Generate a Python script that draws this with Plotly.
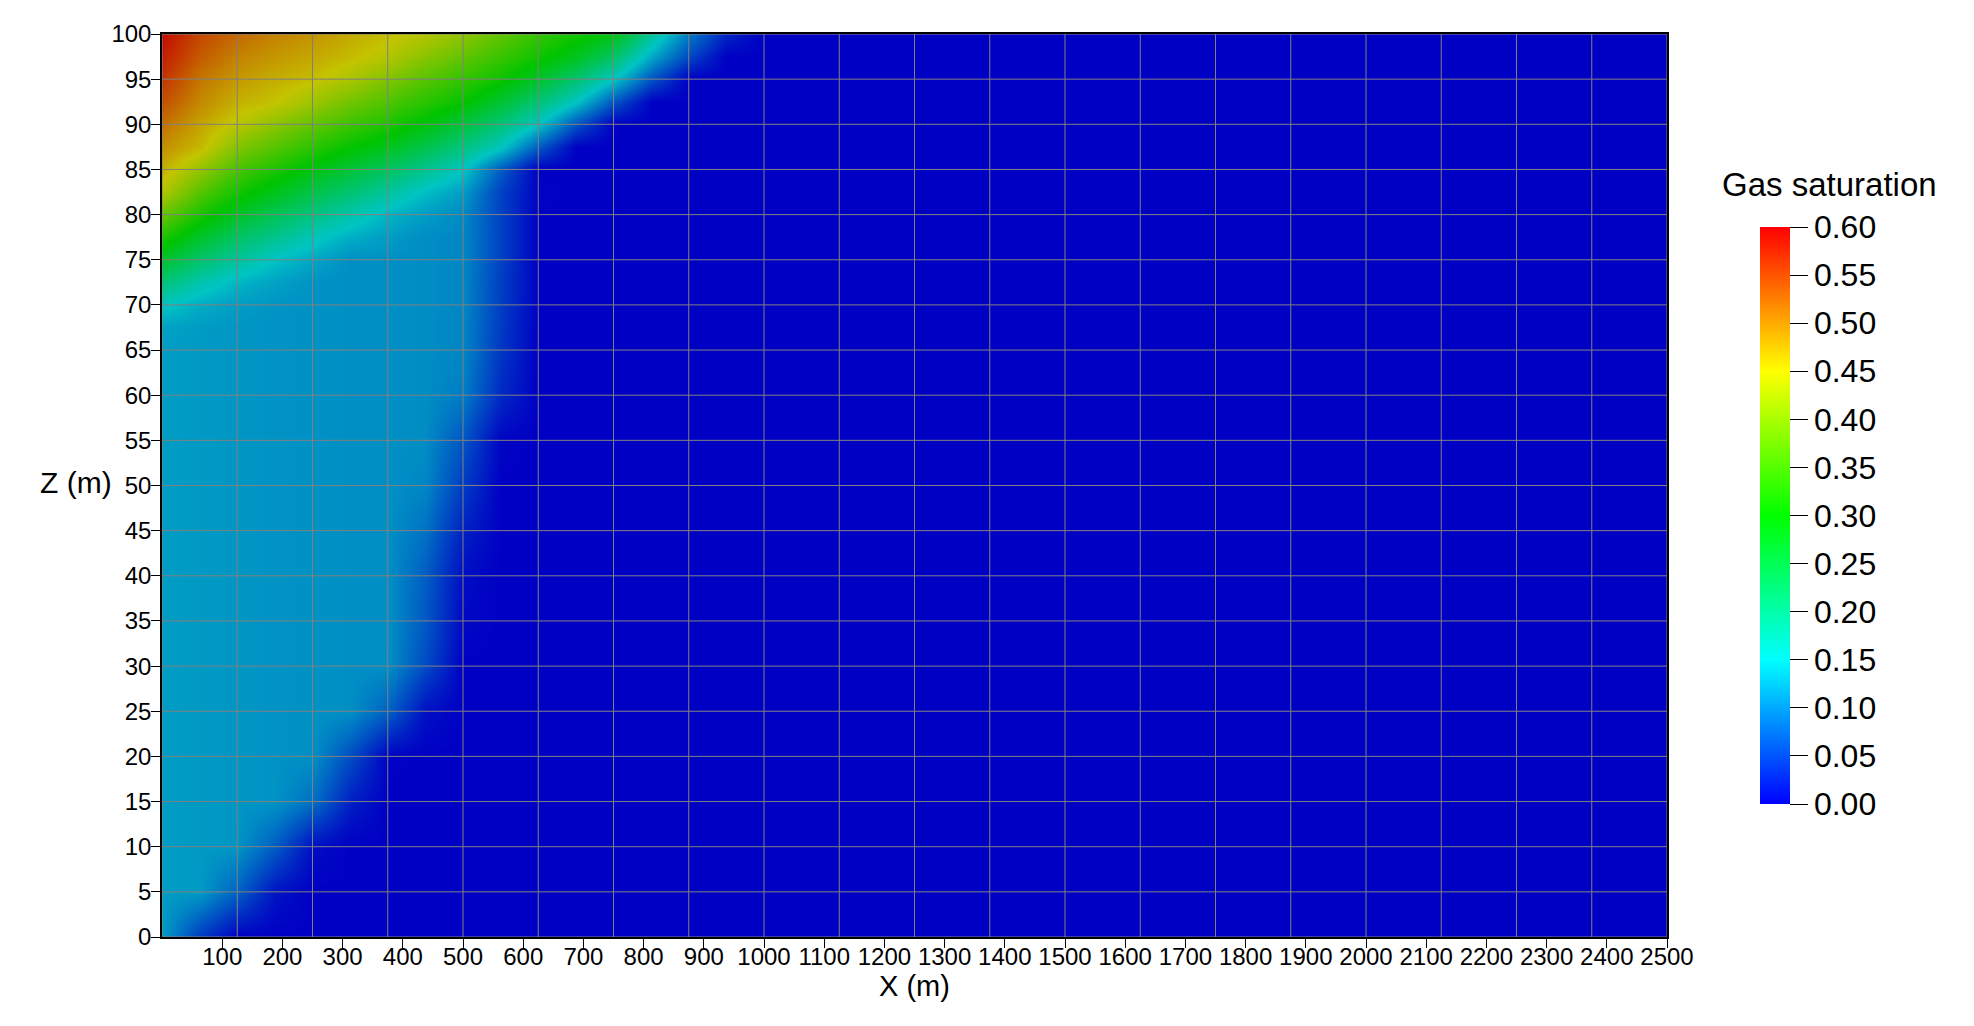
import plotly.graph_objects as go

# ---- data ----
x_nodes = [0, 62.5, 125, 187.5, 250, 312.5, 375, 437.5, 500, 562.5, 625,
           687.5, 750, 812.5, 875, 937.5, 1000, 2500]
z_nodes = [0, 5, 10, 15, 20, 25, 30, 35, 40, 45, 50, 55, 60, 62.5, 65, 67.5,
           70, 72.5, 75, 77.5, 80, 82.5, 85, 87.5, 90, 92.5, 95, 97.5, 100]

# gas saturation, one row per z node (bottom to top), one column per x node
saturation = [
    [0.120, 0.045, 0.000, 0, 0, 0, 0, 0, 0, 0, 0, 0, 0, 0, 0, 0, 0, 0],
    [0.120, 0.118, 0.075, 0.015, 0, 0, 0, 0, 0, 0, 0, 0, 0, 0, 0, 0, 0, 0],
    [0.120, 0.118, 0.115, 0.070, 0.010, 0, 0, 0, 0, 0, 0, 0, 0, 0, 0, 0, 0, 0],
    [0.120, 0.118, 0.115, 0.113, 0.085, 0.024, 0, 0, 0, 0, 0, 0, 0, 0, 0, 0, 0, 0],
    [0.120, 0.118, 0.115, 0.113, 0.110, 0.060, 0.002, 0, 0, 0, 0, 0, 0, 0, 0, 0, 0, 0],
    [0.120, 0.118, 0.115, 0.113, 0.112, 0.110, 0.075, 0.013, 0, 0, 0, 0, 0, 0, 0, 0, 0, 0],
    [0.120, 0.118, 0.115, 0.113, 0.112, 0.110, 0.110, 0.058, 0, 0, 0, 0, 0, 0, 0, 0, 0, 0],
    [0.120, 0.118, 0.115, 0.113, 0.112, 0.110, 0.110, 0.068, 0.006, 0, 0, 0, 0, 0, 0, 0, 0, 0],
    [0.120, 0.118, 0.115, 0.113, 0.112, 0.110, 0.110, 0.072, 0.010, 0, 0, 0, 0, 0, 0, 0, 0, 0],
    [0.120, 0.118, 0.115, 0.113, 0.112, 0.110, 0.110, 0.087, 0.025, 0, 0, 0, 0, 0, 0, 0, 0, 0],
    [0.120, 0.118, 0.115, 0.113, 0.112, 0.110, 0.110, 0.103, 0.045, 0, 0, 0, 0, 0, 0, 0, 0, 0],
    [0.120, 0.118, 0.115, 0.113, 0.112, 0.110, 0.110, 0.108, 0.065, 0.003, 0, 0, 0, 0, 0, 0, 0, 0],
    [0.120, 0.118, 0.115, 0.113, 0.112, 0.110, 0.110, 0.108, 0.095, 0.032, 0, 0, 0, 0, 0, 0, 0, 0],
    [0.120, 0.118, 0.115, 0.113, 0.112, 0.110, 0.110, 0.108, 0.100, 0.037, 0, 0, 0, 0, 0, 0, 0, 0],
    [0.120, 0.118, 0.115, 0.113, 0.112, 0.110, 0.110, 0.108, 0.102, 0.042, 0, 0, 0, 0, 0, 0, 0, 0],
    [0.125, 0.119, 0.115, 0.113, 0.112, 0.110, 0.110, 0.108, 0.102, 0.045, 0, 0, 0, 0, 0, 0, 0, 0],
    [0.154, 0.132, 0.120, 0.113, 0.112, 0.110, 0.110, 0.108, 0.103, 0.047, 0, 0, 0, 0, 0, 0, 0, 0],
    [0.210, 0.168, 0.140, 0.124, 0.112, 0.110, 0.110, 0.108, 0.103, 0.048, 0, 0, 0, 0, 0, 0, 0, 0],
    [0.266, 0.218, 0.181, 0.148, 0.127, 0.110, 0.110, 0.108, 0.103, 0.050, 0, 0, 0, 0, 0, 0, 0, 0],
    [0.323, 0.268, 0.226, 0.192, 0.159, 0.133, 0.120, 0.108, 0.103, 0.050, 0, 0, 0, 0, 0, 0, 0, 0],
    [0.379, 0.318, 0.271, 0.235, 0.202, 0.168, 0.138, 0.120, 0.105, 0.050, 0, 0, 0, 0, 0, 0, 0, 0],
    [0.436, 0.366, 0.315, 0.279, 0.245, 0.213, 0.180, 0.145, 0.120, 0.050, 0.003, 0, 0, 0, 0, 0, 0, 0],
    [0.467, 0.415, 0.357, 0.322, 0.288, 0.259, 0.229, 0.192, 0.153, 0.070, 0, 0, 0, 0, 0, 0, 0, 0],
    [0.490, 0.460, 0.400, 0.365, 0.332, 0.303, 0.278, 0.242, 0.204, 0.155, 0.070, 0, 0, 0, 0, 0, 0, 0],
    [0.515, 0.475, 0.442, 0.408, 0.376, 0.346, 0.322, 0.292, 0.254, 0.208, 0.154, 0.065, 0, 0, 0, 0, 0, 0],
    [0.540, 0.495, 0.465, 0.451, 0.420, 0.388, 0.360, 0.331, 0.303, 0.261, 0.211, 0.152, 0.065, 0, 0, 0, 0, 0],
    [0.560, 0.510, 0.483, 0.467, 0.455, 0.430, 0.399, 0.367, 0.339, 0.309, 0.268, 0.216, 0.152, 0.065, 0, 0, 0, 0],
    [0.577, 0.530, 0.500, 0.484, 0.471, 0.457, 0.438, 0.404, 0.374, 0.342, 0.312, 0.276, 0.220, 0.129, 0.054, 0, 0, 0],
    [0.590, 0.545, 0.520, 0.500, 0.487, 0.470, 0.455, 0.440, 0.410, 0.375, 0.340, 0.315, 0.287, 0.185, 0.095, 0.030, 0, 0],
]

# mesh cell edges (drawn as thin grey lines)
mesh_x = [0, 125, 250, 375, 500, 625, 750, 875, 1000, 1125, 1250, 1375, 1500,
          1625, 1750, 1875, 2000, 2125, 2250, 2375, 2500]
mesh_z = [0, 5, 10, 15, 20, 25, 30, 35, 40, 45, 50, 55, 60, 65, 70, 75, 80,
          85, 90, 95, 100]

x_ticks = [100, 200, 300, 400, 500, 600, 700, 800, 900, 1000, 1100, 1200, 1300,
           1400, 1500, 1600, 1700, 1800, 1900, 2000, 2100, 2200, 2300, 2400, 2500]
z_ticks = [0, 5, 10, 15, 20, 25, 30, 35, 40, 45, 50, 55, 60, 65, 70, 75, 80,
           85, 90, 95, 100]
cbar_ticks = [0.0, 0.05, 0.10, 0.15, 0.20, 0.25, 0.30, 0.35, 0.40, 0.45, 0.50,
              0.55, 0.60]

# ---- styling ----
FONT = "Liberation Sans, Arial, sans-serif"
rainbow = [[0.0, "rgb(0,0,255)"], [0.25, "rgb(0,255,255)"],
           [0.5, "rgb(0,255,0)"], [0.75, "rgb(255,255,0)"],
           [1.0, "rgb(255,0,0)"]]

# plot area in page pixels (page body adds an 8 px offset)
OFF = 8
PL, PR, PT, PB = 162, 1667, 34, 937
PW, PH = PR - PL, PB - PT
W, H = 1974 - OFF, 1026 - OFF


def px_x(px):
    return (px - PL) / PW


def px_y(py):
    return (PB - py) / PH


fig = go.Figure()

fig.add_trace(go.Heatmap(
    x=x_nodes, y=z_nodes, z=saturation,
    zsmooth="best", colorscale=rainbow, zmin=0, zmax=0.6,
    opacity=0.77, hoverinfo="skip",
    colorbar=dict(
        x=px_x(1760), xanchor="left", xpad=0,
        y=px_y(515.5), yanchor="middle", ypad=0,
        len=577, lenmode="pixels", thickness=30, thicknessmode="pixels",
        outlinewidth=0,
        tickvals=cbar_ticks, tickformat=".2f",
        ticks="outside", ticklen=18, tickwidth=1, tickcolor="black",
        tickfont=dict(family=FONT, size=32, color="black"),
    ),
))

# mesh lines
mx, my = [], []
for xv in mesh_x:
    mx += [xv, xv, None]
    my += [mesh_z[0], mesh_z[-1], None]
for zv in mesh_z:
    mx += [mesh_x[0], mesh_x[-1], None]
    my += [zv, zv, None]
fig.add_trace(go.Scatter(x=mx, y=my, mode="lines",
                         line=dict(color="rgb(128,128,128)", width=1),
                         hoverinfo="skip", showlegend=False))

axis_common = dict(showgrid=False, zeroline=False, layer="above traces")

fig.update_layout(
    width=W, height=H,
    margin=dict(l=PL - OFF, r=W - (PR - OFF), t=PT - OFF, b=H - (PB - OFF)),
    paper_bgcolor="white", plot_bgcolor="black",
    showlegend=False,
    font=dict(family=FONT, color="black"),
    xaxis=dict(range=[0, 2500], tickvals=x_ticks, ticks="outside", ticklen=9,
               tickwidth=1, tickcolor="black", ticklabelstandoff=-12,
               tickfont=dict(family=FONT, size=24, color="black"),
               showline=True, mirror=True, linecolor="black", linewidth=1.5,
               **axis_common),
    yaxis=dict(range=[0, 100], tickvals=z_ticks, ticks="outside", ticklen=9,
               tickwidth=1, tickcolor="black", ticklabelstandoff=-5,
               tickfont=dict(family=FONT, size=24, color="black"),
               showline=True, mirror=True, linecolor="black", linewidth=1.5,
               **axis_common),
    xaxis2=dict(range=[0, 2500], overlaying="x", anchor="y", side="bottom",
                tickvals=x_ticks, ticks="inside", ticklen=10, tickwidth=1,
                tickcolor="black", showticklabels=False, showline=False,
                **axis_common),
    yaxis2=dict(range=[0, 100], overlaying="y", anchor="x", side="left",
                tickvals=z_ticks, ticks="inside", ticklen=10, tickwidth=1,
                tickcolor="black", showticklabels=False, showline=False,
                **axis_common),
    annotations=[
        dict(text="X (m)", xref="paper", yref="paper", x=0.5,
             y=px_y(986), xanchor="center", yanchor="middle",
             showarrow=False, font=dict(family=FONT, size=29, color="black")),
        dict(text="Z (m)", xref="paper", yref="paper", x=px_x(76),
             y=px_y(482), xanchor="center", yanchor="middle",
             showarrow=False, font=dict(family=FONT, size=30, color="black")),
        dict(text="Gas saturation", xref="paper", yref="paper",
             x=px_x(1829), y=px_y(185),
             xanchor="center", yanchor="middle", showarrow=False,
             font=dict(family=FONT, size=33, color="black")),
    ],
)

fig.write_html("out.html", config={"displayModeBar": False})
